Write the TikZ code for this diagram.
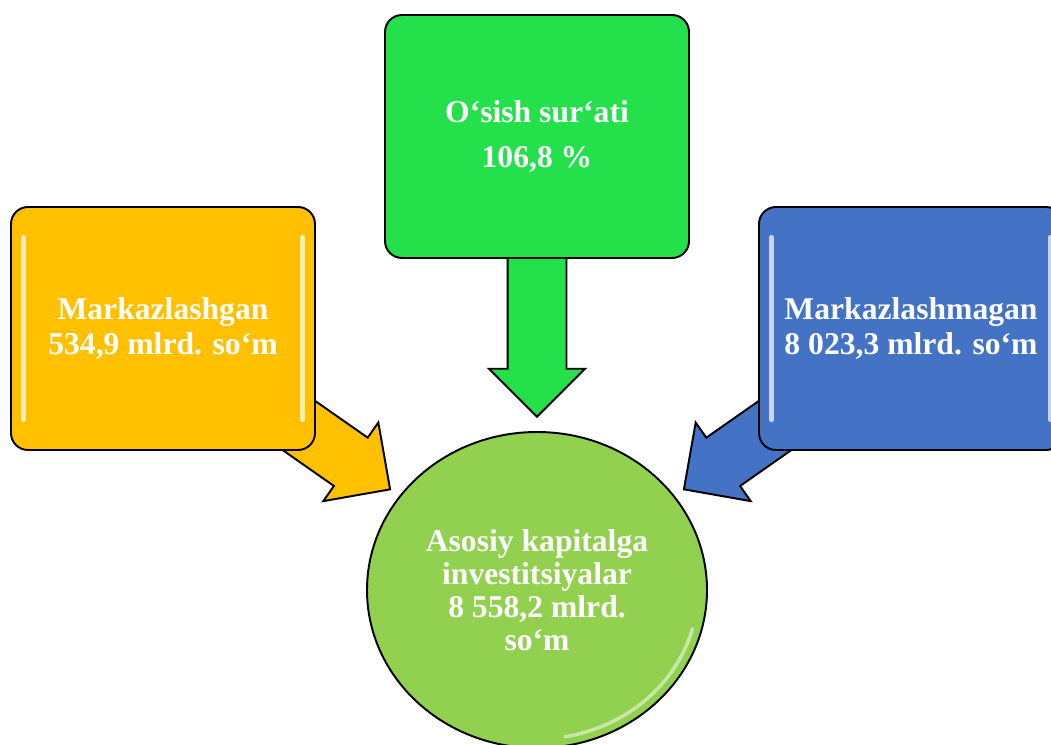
\documentclass[tikz,border=0pt]{standalone}
\usepackage{fontspec}
\setmainfont{Liberation Serif}
\usetikzlibrary{shapes.geometric,shapes.arrows,backgrounds}
\definecolor{boxgold}{HTML}{FFC000}
\definecolor{boxgreen}{RGB}{35,224,75}
\definecolor{boxblue}{HTML}{4472C4}
\definecolor{ballgreen}{HTML}{92D050}

\begin{document}
\begin{tikzpicture}[
  block/.style={rectangle, draw, line width=1.1pt, rounded corners=0.34cm, minimum width=6.08cm, minimum height=4.86cm, text=white, font=\bfseries\fontsize{18}{20}\selectfont, align=center},
  gloss/.style={path picture={
    \draw[white, opacity=0.7, line width=2.5pt, line cap=round]
      ([xshift=0.25cm, yshift=-0.6cm]path picture bounding box.north west) -- ([xshift=0.25cm, yshift=0.6cm]path picture bounding box.south west)
      ([xshift=-0.25cm, yshift=-0.6cm]path picture bounding box.north east) -- ([xshift=-0.25cm, yshift=0.6cm]path picture bounding box.south east);}},
  ball/.style={ellipse, draw, line width=1.1pt, fill=ballgreen, minimum width=6.8cm, minimum height=6.32cm, inner sep=0pt, text=white, font=\bfseries\fontsize{18}{18.8}\selectfont, align=center,
    path picture={
      \draw[white, opacity=0.5, line width=2pt, line cap=round]
        ([shift={(-15:3.22cm and 2.98cm)}]path picture bounding box.center) arc[start angle=-15, end angle=-80, x radius=3.22cm, y radius=2.98cm];}},
  flow/.style={single arrow, draw, line width=1.1pt, inner xsep=0pt, inner ysep=0pt, text height=0.57cm, text depth=0.57cm, minimum width=0pt, single arrow head extend=0.37cm},
  node distance=7.48cm
]
\useasboundingbox (0,0) rectangle (21.02,-14.9);

\node[ball] (total) at (10.74,-11.8) {Asosiy kapitalga\\investitsiyalar\\8 558,2 mlrd.\\so‘m};
\node[block, fill=boxgreen, above of=total, node distance=9.07cm] (growth) {O‘sish sur‘ati\\[5.6pt]106,8 \%};
\node[block, gloss, fill=boxgold, left of=total, yshift=5.23cm] (central) {Markazlashgan\\534,9 mlrd. so‘m};
\node[block, gloss, fill=boxblue, right of=total, yshift=5.23cm] (local) {Markazlashmagan\\8 023,3 mlrd. so‘m};

% Arrows
\begin{scope}[on background layer]
\node[flow, fill=boxgreen, minimum height=4.34cm, below of=growth, node distance=3.14cm, rotate=-90] (growtharrow) {};
\node[flow, fill=boxgold, minimum height=3.2cm, right of=central, node distance=2.99cm, yshift=-2.13cm, rotate=-35] (centralarrow) {};
\node[flow, fill=boxblue, minimum height=3.2cm, left of=local, node distance=2.99cm, yshift=-2.13cm, rotate=-145] (localarrow) {};
\end{scope}
\end{tikzpicture}
\end{document}
